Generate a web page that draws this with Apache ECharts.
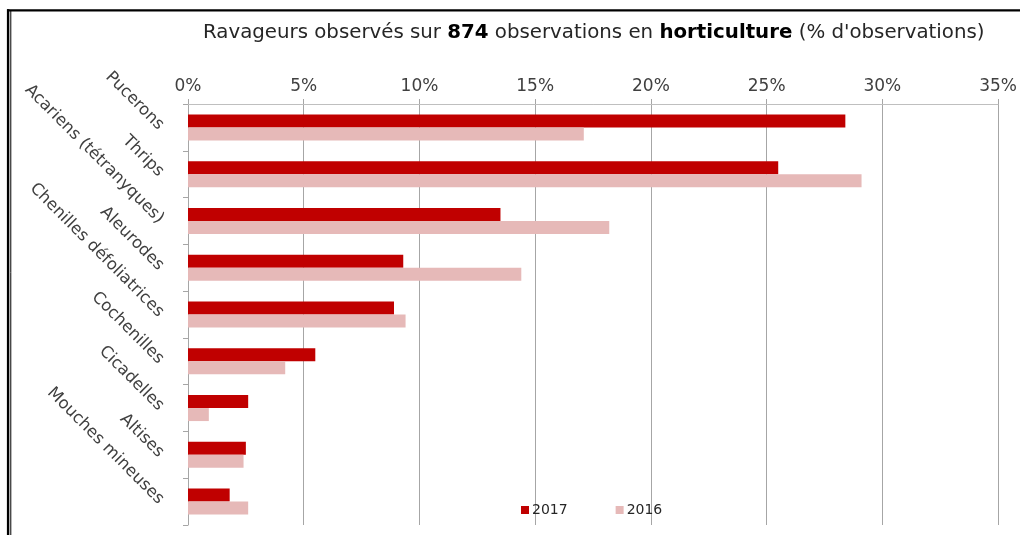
<!DOCTYPE html>
<html>
<head>
<meta charset="utf-8">
<script src="https://cdn.jsdelivr.net/npm/echarts@6/dist/echarts.min.js"></script>
<style>
  html, body { margin: 0; padding: 0; background: #ffffff; }
  #chart { width: 1020px; height: 535px; }
</style>
</head>
<body>
<div id="chart"></div>
<script>
// Pests observed in horticulture, share of observations (%)
const categories = [
  'Pucerons',
  'Thrips',
  'Acariens (tétranyques)',
  'Aleurodes',
  'Chenilles défoliatrices',
  'Cochenilles',
  'Cicadelles',
  'Altises',
  'Mouches mineuses'
];
const values2017 = [28.4, 25.5, 13.5, 9.3, 8.9, 5.5, 2.6, 2.5, 1.8];
const values2016 = [17.1, 29.1, 18.2, 14.4, 9.4, 4.2, 0.9, 2.4, 2.6];
const seriesNames = ['2017', '2016'];
const percentTicks = [0, 5, 10, 15, 20, 25, 30, 35];

const FONT = '"DejaVu Sans", Verdana, sans-serif';
const TEXT = '#404040';
const RULE = '#a6a6a6';

const chart = echarts.init(document.getElementById('chart'), null, { renderer: 'canvas' });

chart.setOption({
  backgroundColor: '#ffffff',
  animation: false,
  title: {
    left: 198,
    top: 18,
    text: '{n|Ravageurs observés sur }{b|874}{n| observations en }{b|horticulture}{n| (% d\'observations)}',
    textStyle: {
      fontWeight: 'normal',
      rich: {
        n: { fontFamily: FONT, fontSize: 19.8, color: '#262626', fontWeight: 'normal' },
        b: { fontFamily: FONT, fontSize: 19.8, color: '#000000', fontWeight: 'bold' }
      }
    }
  },
  legend: {
    data: seriesNames,
    left: 516,
    top: 498,
    itemWidth: 8,
    itemHeight: 8,
    itemGap: 48,
    icon: 'rect',
    textStyle: { fontFamily: FONT, fontSize: 14, color: '#262626', padding: [0, 0, 0, -2] }
  },
  grid: { left: 188, right: 20, top: 104, bottom: 10, containLabel: false },
  xAxis: {
    type: 'value',
    position: 'top',
    min: percentTicks[0],
    max: percentTicks[percentTicks.length - 1],
    interval: 5,
    axisLine: { show: true, lineStyle: { color: '#bfbfbf', width: 1 } },
    axisTick: { show: true, length: 5, lineStyle: { color: RULE } },
    splitLine: { show: true, lineStyle: { color: RULE, width: 1 } },
    axisLabel: {
      formatter: v => v + '%',
      fontFamily: FONT,
      fontSize: 17,
      color: TEXT,
      margin: 9
    }
  },
  yAxis: {
    type: 'category',
    data: categories,
    inverse: true,
    axisLine: { show: true, lineStyle: { color: RULE, width: 1 } },
    axisTick: { show: true, length: 5, lineStyle: { color: RULE } },
    axisLabel: {
      rotate: -45,
      fontFamily: FONT,
      fontSize: 16.5,
      color: TEXT,
      margin: 27,
      interval: 0
    }
  },
  series: [
    {
      name: seriesNames[0],
      type: 'bar',
      data: values2017,
      barWidth: 13,
      barGap: '0%',
      itemStyle: { color: '#c00000' }
    },
    {
      name: seriesNames[1],
      type: 'bar',
      data: values2016,
      barWidth: 13,
      barGap: '0%',
      itemStyle: { color: '#e6b9b8' }
    }
  ],
  graphic: [
    // frame: top rule and doubled left rule
    { type: 'line', shape: { x1: 7, y1: 10.3, x2: 1020, y2: 10.3 }, style: { stroke: '#000', lineWidth: 2.2 } },
    { type: 'line', shape: { x1: 8.1, y1: 9.2, x2: 8.1, y2: 535 }, style: { stroke: '#000', lineWidth: 2.4 } },
    { type: 'line', shape: { x1: 10.8, y1: 10.3, x2: 10.8, y2: 535 }, style: { stroke: '#000', lineWidth: 1 } }
  ]
});
</script>
</body>
</html>
